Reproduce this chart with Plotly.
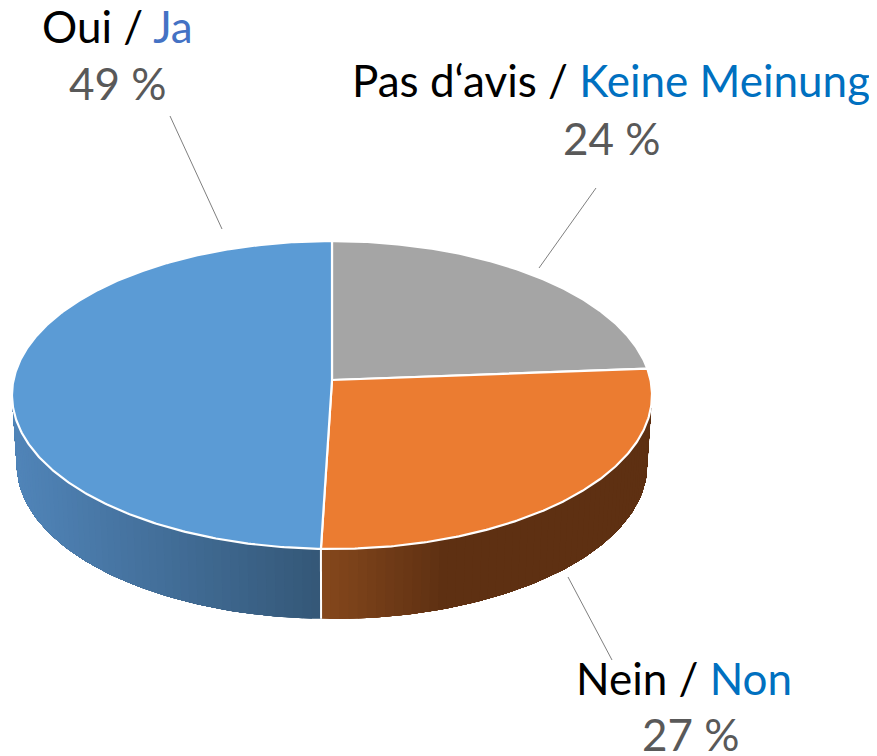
import math
import plotly.graph_objects as go

# Data (clockwise from 12 o'clock); shares
categories_fr = ["Pas d‘avis", "Nein", "Oui"]
categories_other = ["Keine Meinung", "Non", "Ja"]
drawn_shares = [23.8, 26.7, 49.5]
percent_labels = ["24 %", "27 %", "49 %"]
top_colors = ["#A5A5A5", "#EB7C31", "#5B9BD5"]

# Projection of the pie disc into the page (pixels)
CX, CY = 332.0, 380.0
A, B, K = 318.5, 152.5, 0.0974
DEPTH, BOTTOM_SCALE = 70.0, 0.985


def rim(theta_deg, bottom=False):
    t = math.radians(theta_deg)
    u, v = math.sin(t), math.cos(t)
    w = 1 + K * v
    sx, sy = A * u / w, -B * v / w
    if bottom:
        return CX + sx * BOTTOM_SCALE, CY + sy + DEPTH
    return CX + sx, CY + sy


def frange(a, b, step=1.0):
    n = max(2, int(abs(b - a) / step) + 1)
    return [a + (b - a) * i / (n - 1) for i in range(n)]


def mix(c1, c2, f):
    f = max(0.0, min(1.0, f))
    return "rgb(%d,%d,%d)" % tuple(round(a + (b - a) * f) for a, b in zip(c1, c2))


cum = [0.0]
for s in drawn_shares:
    cum.append(cum[-1] + s * 3.6)

fig = go.Figure()


def wall(t0, t1, color_of_x, seg=1.5):
    # nested polygons painted over each other, so no seams appear between gradient steps
    ts = frange(t0, t1, seg)
    for i in range(len(ts) - 1):
        rest = ts[i:]
        top = [rim(t) for t in rest]
        bot = [rim(t, True) for t in reversed(rest)]
        pts = top + bot
        xm = (rim(ts[i])[0] + rim(ts[i + 1])[0]) / 2
        c = color_of_x(xm)
        fig.add_trace(go.Scatter(
            x=[p[0] for p in pts] + [pts[0][0]], y=[p[1] for p in pts] + [pts[0][1]],
            mode="lines", fill="toself", fillcolor=c, line=dict(width=0),
            hoverinfo="skip", showlegend=False))


wall(cum[2], 262, lambda x: mix((0x34, 0x57, 0x77), (0x50, 0x84, 0xB8), (323 - x) / 308))
wall(cum[2], 95.6, lambda x: mix((0x84, 0x47, 0x1C), (0x5E, 0x30, 0x12), (x - 325) / 120))

# separator on the wall
xa, ya = rim(cum[2])
xb, yb = rim(cum[2], True)
fig.add_trace(go.Scatter(x=[xa, xb], y=[ya, yb], mode="lines",
                         line=dict(color="white", width=2), hoverinfo="skip", showlegend=False))

# top faces
for i, col in enumerate(top_colors):
    pts = [rim(t) for t in frange(cum[i], cum[i + 1], 0.5)]
    xs = [CX] + [p[0] for p in pts] + [CX]
    ys = [CY] + [p[1] for p in pts] + [CY]
    fig.add_trace(go.Scatter(x=xs, y=ys, mode="lines", fill="toself", fillcolor=col,
                             line=dict(color="white", width=2.2),
                             name=categories_fr[i], hoverinfo="name", showlegend=False))

# leader lines
for x0, y0, x1, y1 in [(170, 116, 222, 229), (596, 188, 539, 268), (568, 577, 612, 660)]:
    fig.add_shape(type="line", x0=x0, y0=y0, x1=x1, y1=y1, xref="x", yref="y",
                  line=dict(color="#7F7F7F", width=1))

FONT = "Lato, Carlito, Calibri, sans-serif"
SIZE = 44
name_colors = ["#0070C0", "#0070C0", "#4472C4"]
name_pos = [(611, 80), (684, 678), (117, 26)]
pct_pos = [(612, 138), (691, 734), (118, 83)]
for i in range(3):
    fig.add_annotation(x=name_pos[i][0], y=name_pos[i][1], xref="x", yref="y", showarrow=False,
                       xanchor="center", yanchor="middle",
                       text=f'{categories_fr[i]} / <span style="color:{name_colors[i]}">{categories_other[i]}</span>',
                       font=dict(family=FONT, size=SIZE, color="#000000"))
    fig.add_annotation(x=pct_pos[i][0], y=pct_pos[i][1], xref="x", yref="y", showarrow=False,
                       xanchor="center", yanchor="middle", text=percent_labels[i],
                       font=dict(family=FONT, size=SIZE, color="#595959"))

# the page's default 8 px body margin is compensated in the axis ranges
fig.update_layout(width=877, height=756, autosize=False, margin=dict(l=0, r=0, t=0, b=0),
                  paper_bgcolor="white", plot_bgcolor="white", showlegend=False,
                  xaxis=dict(range=[8, 885], visible=False, fixedrange=True),
                  yaxis=dict(range=[764, 8], visible=False, fixedrange=True))
fig.write_html("out.html", config={"displayModeBar": False})
